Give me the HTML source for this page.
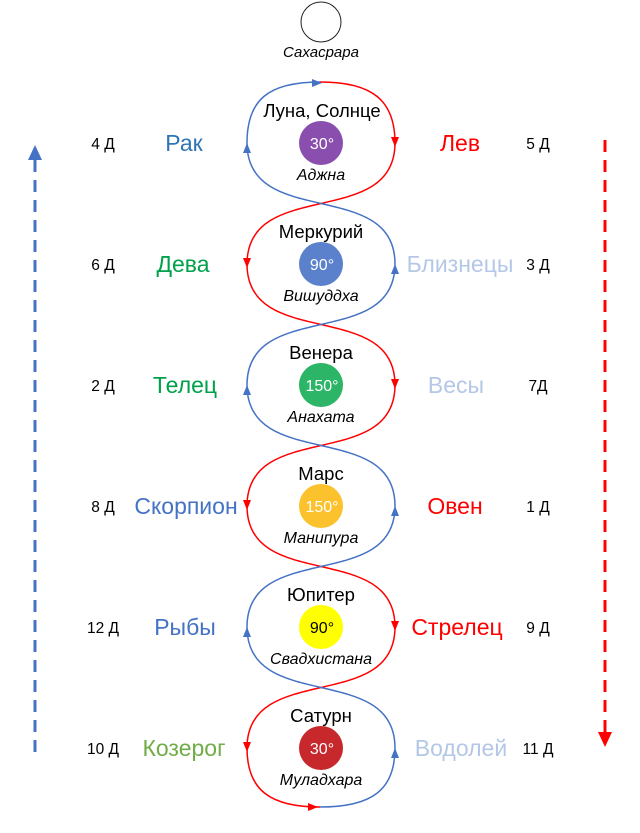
<!DOCTYPE html>
<html><head><meta charset="utf-8"><style>body{margin:0;background:#fff}</style></head><body>
<svg width="640" height="828" viewBox="0 0 640 828" xmlns="http://www.w3.org/2000/svg" font-family="Liberation Sans, DejaVu Sans, sans-serif">
<circle cx="321" cy="22" r="20" fill="#fff" stroke="#222" stroke-width="1"/>
<text x="321" y="57" font-size="15" font-style="italic" text-anchor="middle">Сахасрара</text>
<path d="M320 82 C372 82 395 100 395 143 C395 230 247 177 247 264 C247 351 395 298 395 385 C395 472 247 419 247 506 C247 593 395 540 395 627 C395 714 247 661 247 748 C247 790 270 807 320 807" fill="none" stroke="#ff0000" stroke-width="1.5"/>
<path d="M320 82 C268 82 247 100 247 143 C247 230 395 177 395 264 C395 351 247 298 247 385 C247 472 395 419 395 506 C395 593 247 540 247 627 C247 714 395 661 395 748 C395 790 372 807 320 807" fill="none" stroke="#4472c4" stroke-width="1.5"/>
<g fill="#ff0000">
<path d="M391 137 L399 137 L395 147Z"/><path d="M243 258 L251 258 L247 268Z"/><path d="M391 379 L399 379 L395 389Z"/><path d="M243 500 L251 500 L247 510Z"/><path d="M391 621 L399 621 L395 631Z"/><path d="M243 742 L251 742 L247 752Z"/><path d="M308 803 L308 811 L318 807Z"/>
</g>
<g fill="#4472c4">
<path d="M243 153 L251 153 L247 143Z"/><path d="M391 274 L399 274 L395 264Z"/><path d="M243 395 L251 395 L247 385Z"/><path d="M391 516 L399 516 L395 506Z"/><path d="M243 637 L251 637 L247 627Z"/><path d="M391 758 L399 758 L395 748Z"/><path d="M312 79 L312 87 L322 83Z"/>
</g>
<g font-size="18.5" text-anchor="middle">
<text x="322" y="117">Луна, Солнце</text><text x="321" y="238">Меркурий</text><text x="321" y="359">Венера</text><text x="321" y="480">Марс</text><text x="321" y="601">Юпитер</text><text x="321" y="722">Сатурн</text>
</g>
<circle cx="321" cy="143" r="22" fill="#8a4fae"/><circle cx="321" cy="264" r="22" fill="#5b80cc"/><circle cx="321" cy="385" r="22" fill="#2cb566"/><circle cx="321" cy="506" r="22" fill="#fbc22e"/><circle cx="321" cy="627" r="22" fill="#ffff00"/><circle cx="321" cy="748" r="22" fill="#c6282c"/>
<g font-size="16" text-anchor="middle" fill="#fff">
<text x="322" y="149">30°</text><text x="322" y="270">90°</text><text x="322" y="391">150°</text><text x="322" y="512">150°</text><text x="322" y="633" fill="#000">90°</text><text x="322" y="754">30°</text>
</g>
<g font-size="16" font-style="italic" text-anchor="middle">
<text x="321" y="180">Аджна</text><text x="321" y="301">Вишуддха</text><text x="321" y="422">Анахата</text><text x="321" y="543">Манипура</text><text x="321" y="664">Свадхистана</text><text x="321" y="785">Муладхара</text>
</g>
<g font-size="23" text-anchor="middle">
<text x="184" y="151" fill="#2e75b6">Рак</text><text x="460" y="151" fill="#ff0000">Лев</text>
<text x="183" y="272" fill="#00a14b">Дева</text><text x="460" y="272" fill="#b4c7e7">Близнецы</text>
<text x="185" y="393" fill="#00a14b">Телец</text><text x="456" y="393" fill="#b4c7e7">Весы</text>
<text x="186" y="514" fill="#4472c4">Скорпион</text><text x="455" y="514" fill="#ff0000">Овен</text>
<text x="185" y="635" fill="#4472c4">Рыбы</text><text x="457" y="635" fill="#ff0000">Стрелец</text>
<text x="184" y="756" fill="#70ad47">Козерог</text><text x="461" y="756" fill="#b4c7e7">Водолей</text>
</g>
<g font-size="15.5" text-anchor="middle">
<text x="103" y="149">4 Д</text><text x="538" y="149">5 Д</text>
<text x="103" y="270">6 Д</text><text x="538" y="270">3 Д</text>
<text x="103" y="391">2 Д</text><text x="538" y="391">7Д</text>
<text x="103" y="512">8 Д</text><text x="538" y="512">1 Д</text>
<text x="103" y="633">12 Д</text><text x="538" y="633">9 Д</text>
<text x="103" y="754">10 Д</text><text x="538" y="754">11 Д</text>
</g>
<line x1="35" y1="752" x2="35" y2="158" stroke="#4472c4" stroke-width="3" stroke-dasharray="12,8"/>
<path d="M28 160 L42 160 L35 145Z" fill="#4472c4"/>
<line x1="605" y1="140" x2="605" y2="732" stroke="#ff0000" stroke-width="3" stroke-dasharray="12,8"/>
<path d="M598 732 L612 732 L605 747Z" fill="#ff0000"/>
</svg>
</body></html>
